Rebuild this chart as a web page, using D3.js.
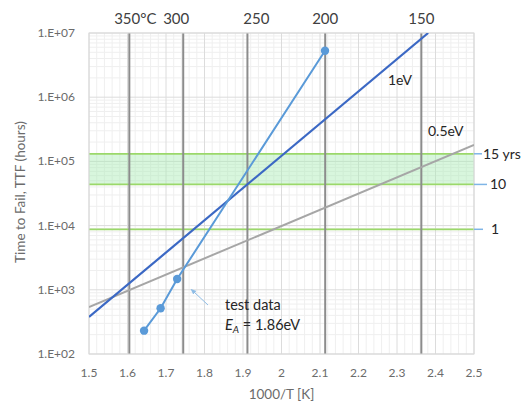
<!DOCTYPE html>
<html>
<head>
<meta charset="utf-8">
<script src="https://cdn.jsdelivr.net/npm/d3@7"></script>
<style>
  body { margin: 0; background: #fff; }
  svg { font-family: Lato, "Open Sans", sans-serif; }
</style>
</head>
<body>
<svg id="chart" width="527" height="405"></svg>
<script>
// temperatures shown as dark vertical lines (deg C)
var tempsC = [350, 300, 250, 200, 150];
var tempLabels = ['350°C', '300', '250', '200', '150'];

// test data (1000/T, TTF hours)
var testX = [1.643, 1.686, 1.729, 2.113];
var testTTF = [231, 515, 1473, 5.3e6];

// activation energy reference lines, end points
var ev1X = [1.5, 2.381];
var ev1TTF = [377, 1e7];
var ev05X = [1.5, 2.5];
var ev05TTF = [540, 1.8e5];

// lifetime marks
var lifeLabels = ['15 yrs', '10', '1'];
var lifeHours = [131400, 43800, 8760];

var xTicks = [1.5, 1.6, 1.7, 1.8, 1.9, 2, 2.1, 2.2, 2.3, 2.4, 2.5];
var yTicks = [1e2, 1e3, 1e4, 1e5, 1e6, 1e7];
var yTickLabels = ['1.E+02', '1.E+03', '1.E+04', '1.E+05', '1.E+06', '1.E+07'];

var svg = d3.select('#chart');
var pLeft = 89, pRight = 474, pTop = 33, pBottom = 354;

var x = d3.scaleLinear().domain([1.5, 2.5]).range([pLeft, pRight]);
var y = d3.scaleLog().domain([100, 1e7]).range([pBottom, pTop]);

var defs = svg.append('defs');
defs.append('clipPath').attr('id', 'clip')
  .append('rect').attr('x', pLeft).attr('y', pTop).attr('width', pRight - pLeft).attr('height', pBottom - pTop);

var grid = svg.append('g');

// minor vertical grid every 0.02
var minorX = d3.range(1.52, 2.5, 0.02).filter(function (v) { return Math.abs(v * 10 - Math.round(v * 10)) > 0.01; });
grid.selectAll('.vminor').data(minorX).enter().append('line')
  .attr('x1', d => x(d)).attr('x2', d => x(d)).attr('y1', pTop).attr('y2', pBottom)
  .attr('stroke', '#efefef').attr('stroke-width', 1);

// minor horizontal grid 2..9 per decade
var minorY = [];
[100, 1000, 1e4, 1e5, 1e6].forEach(function (dec) {
  for (var k = 2; k <= 9; k++) minorY.push(dec * k);
});
grid.selectAll('.hminor').data(minorY).enter().append('line')
  .attr('x1', pLeft).attr('x2', pRight).attr('y1', d => y(d)).attr('y2', d => y(d))
  .attr('stroke', '#efefef').attr('stroke-width', 1);

grid.selectAll('.vmajor').data(xTicks).enter().append('line')
  .attr('x1', d => x(d)).attr('x2', d => x(d)).attr('y1', pTop).attr('y2', pBottom)
  .attr('stroke', '#dcdcdc').attr('stroke-width', 1);

grid.selectAll('.hmajor').data(yTicks).enter().append('line')
  .attr('x1', pLeft).attr('x2', pRight).attr('y1', d => y(d)).attr('y2', d => y(d))
  .attr('stroke', '#dcdcdc').attr('stroke-width', 1);

// green lifetime band
svg.append('rect')
  .attr('x', pLeft).attr('width', pRight - pLeft)
  .attr('y', y(lifeHours[0])).attr('height', y(lifeHours[1]) - y(lifeHours[0]))
  .attr('fill', '#a8eab4').attr('opacity', 0.45);

svg.selectAll('.life').data(lifeHours).enter().append('line')
  .attr('x1', pLeft).attr('x2', pRight).attr('y1', d => y(d)).attr('y2', d => y(d))
  .attr('stroke', '#9bd86a').attr('stroke-width', 1.8);

// temperature lines
var invT = tempsC.map(t => 1000 / (t + 273.15));
svg.selectAll('.temp').data(invT).enter().append('line')
  .attr('x1', d => x(d)).attr('x2', d => x(d)).attr('y1', pTop).attr('y2', pBottom)
  .attr('stroke', '#8c8c8c').attr('stroke-width', 2);

var labelDx = [6, -7, 9, 0, 0];
svg.selectAll('.tlab').data(invT).enter().append('text')
  .attr('x', (d, i) => x(d) + labelDx[i]).attr('y', 24)
  .attr('text-anchor', 'middle').attr('font-size', 15).attr('fill', '#404040')
  .text((d, i) => tempLabels[i]);

// plot border
svg.append('rect').attr('x', pLeft).attr('y', pTop).attr('width', pRight - pLeft).attr('height', pBottom - pTop)
  .attr('fill', 'none').attr('stroke', '#d9d9d9');

var line = d3.line().x(d => x(d[0])).y(d => y(d[1]));
var plot = svg.append('g').attr('clip-path', 'url(#clip)');

plot.append('path').datum(ev05X.map((v, i) => [v, ev05TTF[i]]))
  .attr('d', line).attr('fill', 'none').attr('stroke', '#a6a6a6').attr('stroke-width', 2);

plot.append('path').datum(ev1X.map((v, i) => [v, ev1TTF[i]]))
  .attr('d', line).attr('fill', 'none').attr('stroke', '#3b68c4').attr('stroke-width', 2.2);

var testPts = testX.map((v, i) => [v, testTTF[i]]);
plot.append('path').datum(testPts)
  .attr('d', line).attr('fill', 'none').attr('stroke', '#5a9ad8').attr('stroke-width', 2);

svg.selectAll('.pt').data(testPts).enter().append('circle')
  .attr('cx', d => x(d[0])).attr('cy', d => y(d[1])).attr('r', 4.2)
  .attr('fill', '#5a9ad8');

// y axis labels
svg.selectAll('.ylab').data(yTicks).enter().append('text')
  .attr('x', 75).attr('y', d => y(d) + 4)
  .attr('text-anchor', 'end').attr('font-size', 12).attr('fill', '#6b6b6b')
  .text((d, i) => yTickLabels[i]);

// x axis labels
svg.selectAll('.xlab').data(xTicks).enter().append('text')
  .attr('x', d => x(d)).attr('y', pBottom + 23)
  .attr('text-anchor', 'middle').attr('font-size', 12).attr('fill', '#6b6b6b')
  .text(d => d3.format('')(d));

svg.append('text').attr('x', x(2)).attr('y', 399)
  .attr('text-anchor', 'middle').attr('font-size', 13.5).attr('fill', '#6b6b6b')
  .text('1000/T [K]');

svg.append('text').attr('transform', 'translate(25,192) rotate(-90)')
  .attr('text-anchor', 'middle').attr('font-size', 13.5).attr('fill', '#6b6b6b')
  .text('Time to Fail, TTF  (hours)');

// line labels
svg.append('text').attr('x', 388).attr('y', 85).attr('font-size', 14).attr('fill', '#262626').text('1eV');
svg.append('text').attr('x', 428).attr('y', 136).attr('font-size', 14).attr('fill', '#262626').text('0.5eV');

// lifetime labels with small leader ticks
var lifeTick = [482, 487, 483];
var lifeTx = [483, 490, 491];
svg.selectAll('.ltick').data(lifeHours).enter().append('line')
  .attr('x1', pRight).attr('x2', (d, i) => lifeTick[i]).attr('y1', d => y(d)).attr('y2', d => y(d))
  .attr('stroke', '#7fb5e6').attr('stroke-width', 1.5);
svg.selectAll('.ltext').data(lifeHours).enter().append('text')
  .attr('x', (d, i) => lifeTx[i]).attr('y', d => y(d) + 5)
  .attr('font-size', 14).attr('fill', '#262626')
  .text((d, i) => lifeLabels[i]);

// test data annotation
defs.append('marker').attr('id', 'arr')
  .attr('viewBox', '0 0 10 10').attr('refX', 2).attr('refY', 5)
  .attr('markerWidth', 6).attr('markerHeight', 6).attr('orient', 'auto')
  .append('path').attr('d', 'M0,1 L10,5 L0,9 z').attr('fill', '#8fbde6');
svg.append('line').attr('x1', 208).attr('y1', 305).attr('x2', 194).attr('y2', 292)
  .attr('stroke', '#8fbde6').attr('stroke-width', 1)
  .attr('marker-end', 'url(#arr)');

svg.append('text').attr('x', 225).attr('y', 310).attr('font-size', 14.5).attr('fill', '#262626').text('test data');
var ea = svg.append('text').attr('x', 225).attr('y', 330).attr('font-size', 14.5).attr('fill', '#262626');
ea.append('tspan').attr('font-style', 'italic').text('E');
ea.append('tspan').attr('font-style', 'italic').attr('font-size', 10).attr('dy', 3).text('A');
ea.append('tspan').attr('dy', -3).text(' = 1.86eV');
</script>
</body>
</html>
